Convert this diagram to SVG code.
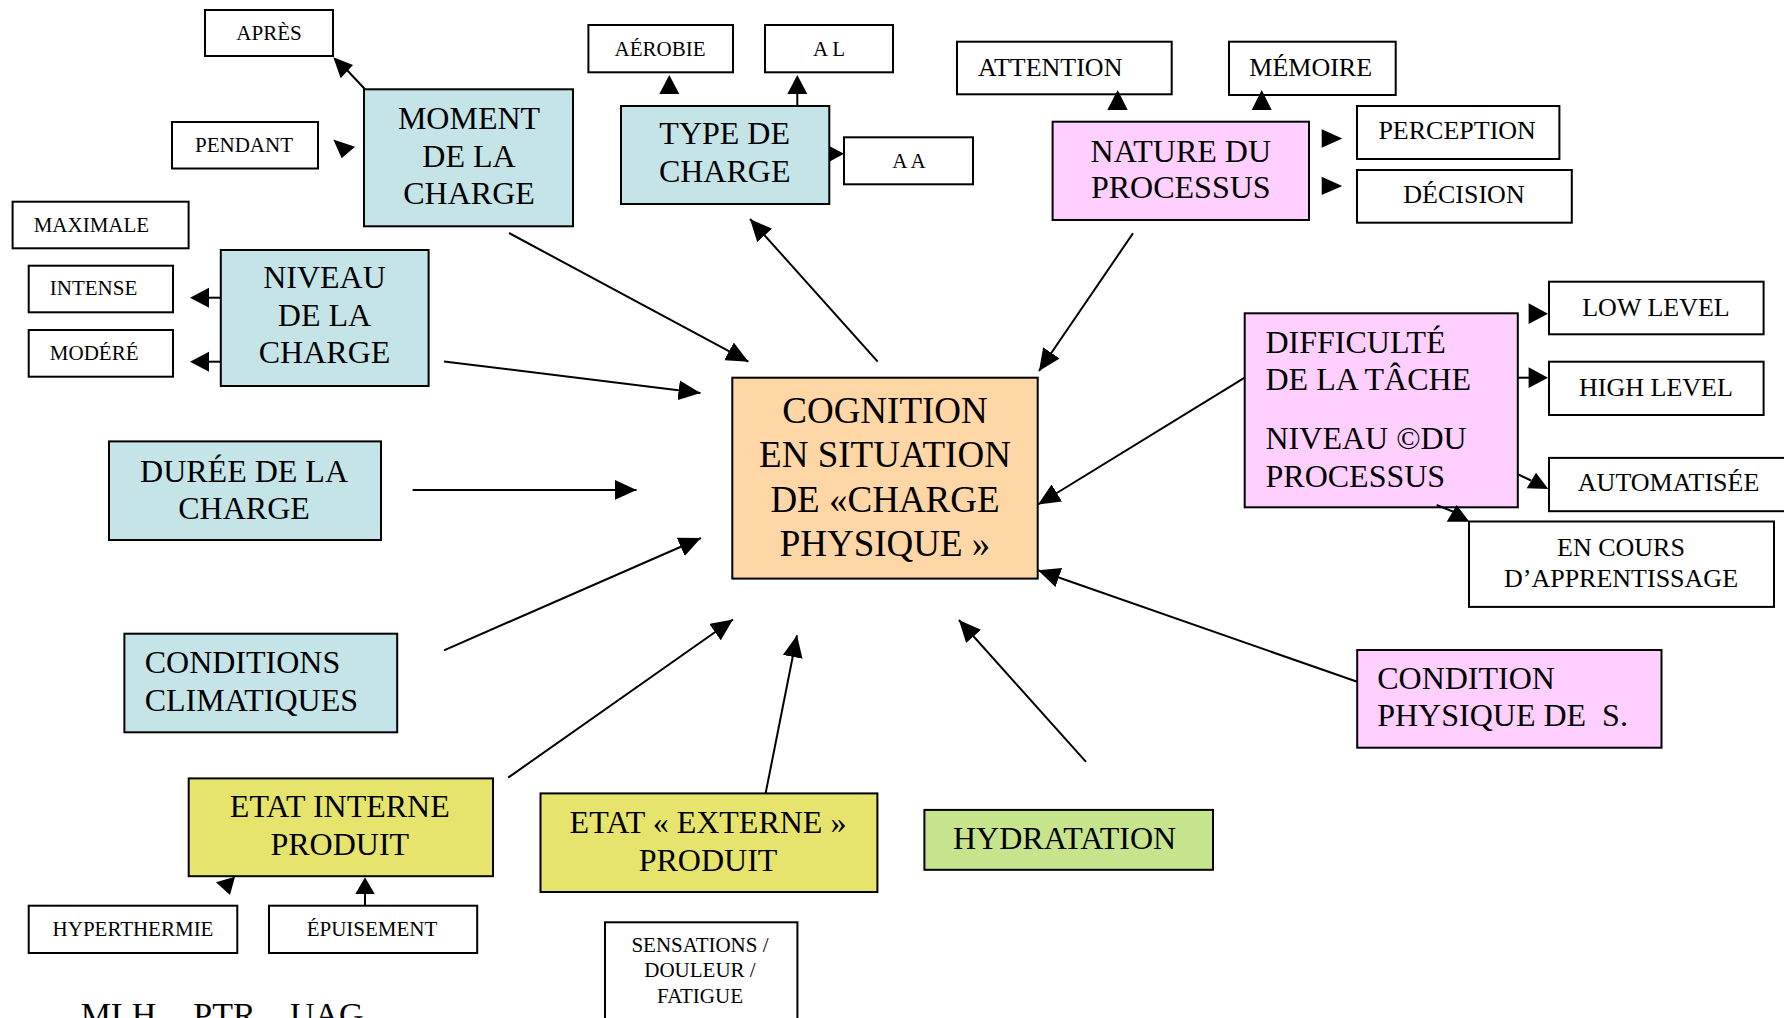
<svg xmlns="http://www.w3.org/2000/svg" width="1784" height="1018" viewBox="0 0 1784 1018">
  <style>
    .bx { stroke: #000; stroke-width: 2; }
    .w { fill: #fff; }
    .blue { fill: #c5e4e8; }
    .peach { fill: #ffd6a6; }
    .pink { fill: #ffd0ff; }
    .yellow { fill: #e6e46c; }
    .green { fill: #c6e48c; }
    text { font-family: "Liberation Serif", "Times New Roman", serif; fill: #000; }
    .c { text-anchor: middle; }
    .s21 { font-size: 21px; }
    .s26 { font-size: 26px; }
    .s32 { font-size: 32px; }
    .s34 { font-size: 34px; }
    .s37 { font-size: 37px; }
    .ln { stroke: #000; stroke-width: 2; fill: none; }
    .main { marker-end: url(#head); }
    .hd { fill: #000; stroke: none; }
  </style>
  <defs>
    <marker id="head" viewBox="0 0 22 20" refX="22" refY="10" markerWidth="22" markerHeight="20" markerUnits="userSpaceOnUse" orient="auto">
      <path d="M0,0 L22,10 L0,20 z" fill="#000"/>
    </marker>
  </defs>

  <!-- centre -->
  <g id="cognition">
    <rect class="bx peach" x="732.3" y="377.7" width="305.4" height="200.9"/>
    <text class="s37 c" x="885" y="422.7">COGNITION</text>
    <text class="s37 c" x="885" y="467">EN SITUATION</text>
    <text class="s37 c" x="885" y="511.5">DE «CHARGE</text>
    <text class="s37 c" x="885" y="555.7">PHYSIQUE »</text>
  </g>

  <!-- load factors -->
  <g id="moment">
    <rect class="bx blue" x="364" y="89.3" width="209" height="137"/>
    <text class="s32 c" x="469" y="129.3">MOMENT</text>
    <text class="s32 c" x="469" y="166.7">DE LA</text>
    <text class="s32 c" x="469" y="204">CHARGE</text>
  </g>
  <g id="apres">
    <rect class="bx w" x="205" y="10" width="128" height="46"/>
    <text class="s21 c" x="269" y="40">APRÈS</text>
  </g>
  <g id="pendant">
    <rect class="bx w" x="172" y="122" width="146" height="46.5"/>
    <text class="s21 c" x="244" y="151.7">PENDANT</text>
  </g>

  <g id="niveau">
    <rect class="bx blue" x="220.8" y="250" width="207.8" height="136"/>
    <text class="s32 c" x="324.5" y="288.3">NIVEAU</text>
    <text class="s32 c" x="324.5" y="325.7">DE LA</text>
    <text class="s32 c" x="324.5" y="363.3">CHARGE</text>
  </g>
  <g id="maximale">
    <rect class="bx w" x="12.6" y="201.7" width="176" height="46.6"/>
    <text class="s21" x="33.7" y="231.7">MAXIMALE</text>
  </g>
  <g id="intense">
    <rect class="bx w" x="28.7" y="265.7" width="144.3" height="46.6"/>
    <text class="s21" x="49.8" y="295">INTENSE</text>
  </g>
  <g id="modere">
    <rect class="bx w" x="28.7" y="330" width="144.3" height="46.7"/>
    <text class="s21" x="49.8" y="360">MODÉRÉ</text>
  </g>

  <g id="duree">
    <rect class="bx blue" x="109" y="441.4" width="272" height="98.6"/>
    <text class="s32 c" x="244" y="481.6">DURÉE DE LA</text>
    <text class="s32 c" x="244" y="519">CHARGE</text>
  </g>

  <g id="climat">
    <rect class="bx blue" x="124.4" y="633.7" width="272.8" height="98.6"/>
    <text class="s32" x="144.7" y="673.2">CONDITIONS</text>
    <text class="s32" x="144.7" y="711.4">CLIMATIQUES</text>
  </g>

  <g id="etat-interne">
    <rect class="bx yellow" x="188.7" y="778.4" width="304.3" height="97.8"/>
    <text class="s32 c" x="339.8" y="816.6">ETAT INTERNE</text>
    <text class="s32 c" x="339.8" y="854.5">PRODUIT</text>
  </g>
  <g id="hyperthermie">
    <rect class="bx w" x="28.7" y="905.7" width="208.6" height="47.3"/>
    <text class="s21 c" x="133" y="936">HYPERTHERMIE</text>
  </g>
  <g id="epuisement">
    <rect class="bx w" x="269" y="905.7" width="208.2" height="47.3"/>
    <text class="s21 c" x="372" y="936">ÉPUISEMENT</text>
  </g>

  <g id="etat-externe">
    <rect class="bx yellow" x="540.5" y="793.4" width="336.9" height="98.6"/>
    <text class="s32 c" x="708" y="832.8">ETAT « EXTERNE »</text>
    <text class="s32 c" x="708" y="871">PRODUIT</text>
  </g>
  <g id="sensations">
    <rect class="bx w" x="605" y="922.3" width="192.4" height="110"/>
    <text class="s21 c" x="700" y="951.8">SENSATIONS /</text>
    <text class="s21 c" x="700" y="977.4">DOULEUR /</text>
    <text class="s21 c" x="700" y="1003">FATIGUE</text>
  </g>

  <g id="hydratation">
    <rect class="bx green" x="924.4" y="809.9" width="288.6" height="59.9"/>
    <text class="s32" x="953" y="848.6">HYDRATATION</text>
  </g>

  <g id="type">
    <rect class="bx blue" x="621" y="106" width="208.3" height="98"/>
    <text class="s32 c" x="724.7" y="144.3">TYPE DE</text>
    <text class="s32 c" x="724.7" y="181.7">CHARGE</text>
  </g>
  <g id="aerobie">
    <rect class="bx w" x="588.4" y="25" width="144.6" height="47.3"/>
    <text class="s21 c" x="660" y="56">AÉROBIE</text>
  </g>
  <g id="al">
    <rect class="bx w" x="765" y="25" width="128" height="47.3"/>
    <text class="s21 c" x="829" y="56">A L</text>
  </g>
  <g id="aa">
    <rect class="bx w" x="844" y="137.3" width="129" height="47"/>
    <text class="s21 c" x="909" y="167.7">A A</text>
  </g>

  <!-- cognitive factors -->
  <g id="nature">
    <rect class="bx pink" x="1052.6" y="121.7" width="256.4" height="98.3"/>
    <text class="s32 c" x="1180.8" y="161.7">NATURE DU</text>
    <text class="s32 c" x="1180.8" y="198.3">PROCESSUS</text>
  </g>
  <g id="attention">
    <rect class="bx w" x="957" y="41.7" width="214.7" height="52.6"/>
    <text class="s26" x="978" y="76">ATTENTION</text>
  </g>
  <g id="memoire">
    <rect class="bx w" x="1229" y="41.7" width="166.7" height="53.3"/>
    <text class="s26" x="1249.3" y="76">MÉMOIRE</text>
  </g>
  <g id="perception">
    <rect class="bx w" x="1357" y="106" width="202.4" height="53"/>
    <text class="s26" x="1378.4" y="139.3">PERCEPTION</text>
  </g>
  <g id="decision">
    <rect class="bx w" x="1357" y="170" width="214.8" height="52.7"/>
    <text class="s26 c" x="1464" y="203.3">DÉCISION</text>
  </g>

  <g id="difficulte">
    <rect class="bx pink" x="1244.7" y="313.3" width="273.1" height="194"/>
    <text class="s32" x="1265.5" y="353.3">DIFFICULTÉ</text>
    <text class="s32" x="1265.5" y="390">DE LA TÂCHE</text>
    <text class="s32" x="1265.5" y="449.3">NIVEAU ©DU</text>
    <text class="s32" x="1265.5" y="486.7">PROCESSUS</text>
  </g>
  <g id="low-level">
    <rect class="bx w" x="1549" y="281.7" width="214.6" height="52.6"/>
    <text class="s26 c" x="1656" y="316">LOW LEVEL</text>
  </g>
  <g id="high-level">
    <rect class="bx w" x="1549" y="361.7" width="214.6" height="53.3"/>
    <text class="s26 c" x="1656" y="396">HIGH LEVEL</text>
  </g>
  <g id="automatisee">
    <rect class="bx w" x="1549" y="457.9" width="245" height="53.3"/>
    <text class="s26 c" x="1668.6" y="491.4">AUTOMATISÉE</text>
  </g>
  <g id="en-cours">
    <rect class="bx w" x="1469" y="521.5" width="305" height="85.4"/>
    <text class="s26 c" x="1621" y="555.7">EN COURS</text>
    <text class="s26 c" x="1621" y="587.2">D’APPRENTISSAGE</text>
  </g>

  <g id="condition-physique">
    <rect class="bx pink" x="1357.2" y="650" width="304.3" height="97.7"/>
    <text class="s32" x="1377.2" y="689">CONDITION</text>
    <text class="s32" x="1377.2" y="726.4" xml:space="preserve">PHYSIQUE DE  S.</text>
  </g>

  <!-- page footer, running off the bottom edge -->
  <g id="signature">
    <text class="s34" y="1025.5"><tspan x="80.7">MLH</tspan><tspan x="193.3">PTR</tspan><tspan x="290">UAG</tspan></text>
  </g>

  <g id="connectors">
    <!-- links to the centre -->
    <line class="ln main" x1="509" y1="233" x2="748.4" y2="361.7"/>
    <line class="ln main" x1="444" y1="361.5" x2="700.5" y2="393"/>
    <line class="ln main" x1="412.6" y1="489.9" x2="636.6" y2="489.9"/>
    <line class="ln main" x1="444" y1="650.3" x2="700.9" y2="538"/>
    <line class="ln main" x1="508.2" y1="777.6" x2="733" y2="619.5"/>
    <line class="ln main" x1="765.6" y1="793.4" x2="797" y2="635.3"/>
    <line class="ln main" x1="1086" y1="761.8" x2="958.9" y2="620"/>
    <line class="ln main" x1="1357.2" y1="681.8" x2="1038" y2="570.3"/>
    <line class="ln main" x1="1244.7" y1="377.7" x2="1038.1" y2="504.5"/>
    <line class="ln main" x1="1133" y1="233.3" x2="1039" y2="371"/>
    <line class="ln main" x1="877.7" y1="361.7" x2="750" y2="219"/>

    <!-- moment -->
    <line class="ln" x1="365" y1="89.3" x2="346" y2="69"/>
    <polygon class="hd" points="333.3,57.3 353,65 340.7,78.3"/>
    <polygon class="hd" points="333.3,139.5 355,146.7 341.7,158.3"/>

    <!-- niveau -->
    <line class="ln" x1="220.8" y1="297.7" x2="208" y2="297.7"/>
    <polygon class="hd" points="190,297.7 209,287.7 209,307.7"/>
    <line class="ln" x1="220.8" y1="361.7" x2="208" y2="361.7"/>
    <polygon class="hd" points="190,361.7 209,351.7 209,371.7"/>

    <!-- type -->
    <polygon class="hd" points="669.3,75 659.3,94 679.3,94"/>
    <line class="ln" x1="797.3" y1="105.7" x2="797.3" y2="93"/>
    <polygon class="hd" points="797.3,75 787.3,94 807.3,94"/>
    <polygon class="hd" points="844,153.8 829.3,146 829.3,161.7"/>

    <!-- nature -->
    <polygon class="hd" points="1117.7,90 1107.3,110 1127.7,110"/>
    <polygon class="hd" points="1261.7,90 1251.7,110 1271.7,110"/>
    <polygon class="hd" points="1321.7,129.3 1342.3,138.5 1321.7,147.7"/>
    <polygon class="hd" points="1321.7,176.7 1342.3,186 1321.7,195"/>

    <!-- difficulte -->
    <polygon class="hd" points="1528.6,303.3 1548,313.7 1528.6,324"/>
    <line class="ln" x1="1517.8" y1="377.7" x2="1529.6" y2="377.7"/>
    <polygon class="hd" points="1528.6,367.3 1548,377.7 1528.6,388"/>
    <line class="ln" x1="1517.3" y1="474" x2="1531" y2="480.5"/>
    <polygon class="hd" points="1526.7,488.3 1536,472.7 1548.3,489"/>
    <line class="ln" x1="1436.7" y1="505" x2="1454" y2="512"/>
    <polygon class="hd" points="1446.7,521.7 1456.7,505 1469.3,521.7"/>

    <!-- etat interne -->
    <polygon class="hd" points="216,882.3 235,876.7 230,895"/>
    <line class="ln" x1="365" y1="906" x2="365" y2="893"/>
    <polygon class="hd" points="365,877.3 355.3,894 374.7,894"/>
  </g>
</svg>
